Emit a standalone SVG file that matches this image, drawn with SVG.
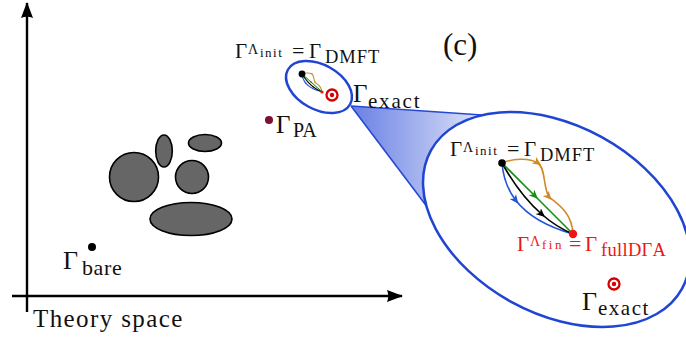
<svg xmlns="http://www.w3.org/2000/svg" xmlns:xlink="http://www.w3.org/1999/xlink" width="686" height="337" viewBox="0 0 686 337">
<style>
text{font-family:"Liberation Serif","Times New Roman",serif;fill:#111}
.m{font-size:21px}
.big{font-size:25px}
.sup{font-size:14px}
.ss{font-size:13px;letter-spacing:1.5px}
.sub{font-size:18.5px;letter-spacing:1px}
.red{fill:#f01414}
.blob{fill:#666;stroke:#000;stroke-width:1.6}
.zoomline{stroke:#2549d4;stroke-width:1.6;fill:none}
.lens{stroke:#1f45d2;stroke-width:2.5}
</style>
<defs>
<linearGradient id="cone" gradientUnits="userSpaceOnUse" x1="352" y1="0" x2="482" y2="0">
<stop offset="0" stop-color="#6a80e3"/>
<stop offset="1" stop-color="#dde3f9"/>
</linearGradient>
<marker id="ax" viewBox="0 0 16 13" refX="15" refY="6.5" markerWidth="16" markerHeight="13" markerUnits="userSpaceOnUse" orient="auto">
<path d="M0,0.5 L16,6.5 L0,12.5 Q2.5,6.5 0,0.5 Z" fill="#000"/>
</marker>
<marker id="aO" viewBox="0 0 9 8" refX="5" refY="4" markerWidth="9" markerHeight="8" markerUnits="userSpaceOnUse" orient="auto">
<path d="M0,0 L9,4 L0,8 L2.5,4 Z" fill="#d08a2a"/>
</marker>
<marker id="aB" viewBox="0 0 9 8" refX="5" refY="4" markerWidth="9" markerHeight="8" markerUnits="userSpaceOnUse" orient="auto">
<path d="M0,0 L9,4 L0,8 L2.5,4 Z" fill="#2255dd"/>
</marker>
<marker id="aK" viewBox="0 0 9 8" refX="5" refY="4" markerWidth="9" markerHeight="8" markerUnits="userSpaceOnUse" orient="auto">
<path d="M0,0 L9,4 L0,8 L2.5,4 Z" fill="#000"/>
</marker>
<marker id="aG" viewBox="0 0 9 8" refX="5" refY="4" markerWidth="9" markerHeight="8" markerUnits="userSpaceOnUse" orient="auto">
<path d="M0,0 L9,4 L0,8 L2.5,4 Z" fill="#1a8c1a"/>
</marker>
<g id="target">
<circle r="5.5" fill="#fff" stroke="#d40000" stroke-width="2.3"/>
<circle r="2.2" fill="#d40000"/>
</g>
<g id="flowpaths" fill="none">
<path stroke="#d08a2a" marker-mid="url(#aO)" d="M502,163 C512,159 528,157 538,163 C546,169 543,188 549,197 C558,204 572,213 573,234"/>
<path stroke="#2255dd" marker-mid="url(#aB)" d="M502,163 C503.2,177.8 507.9,190.2 515.9,200.5 C527.9,216 547.2,226.8 573,234"/>
<path stroke="#000" marker-mid="url(#aK)" d="M502,163 Q520,195.4 542,214.5 Q556.6,227.2 573,234"/>
<path stroke="#1a8c1a" marker-mid="url(#aG)" d="M502,163 L535,196 L573,234"/>
</g>
</defs>

<g id="axes" stroke="#000" stroke-width="2.4" fill="none">
<line x1="27" y1="312" x2="27" y2="3" marker-end="url(#ax)"/>
<line x1="12" y1="296" x2="402" y2="296" marker-end="url(#ax)"/>
</g>
<text id="axis-label" x="33" y="327" class="big" style="letter-spacing:1.4px">Theory space</text>

<g id="blobs">
<circle class="blob" cx="134" cy="177" r="24.5"/>
<ellipse class="blob" cx="164" cy="151" rx="8.3" ry="16"/>
<ellipse class="blob" cx="205" cy="143" rx="16.5" ry="8.5"/>
<circle class="blob" cx="192" cy="177" r="16.5"/>
<ellipse class="blob" cx="191" cy="219" rx="41" ry="16.5"/>
</g>

<g id="bare">
<circle cx="92" cy="247" r="4" fill="#000"/>
<text><tspan x="63" y="269" style="font-size:26px">Γ</tspan><tspan x="82" y="275" style="font-size:22px;letter-spacing:0.6px">bare</tspan></text>
</g>

<g id="pa">
<circle cx="269" cy="120" r="4" fill="#7b1030"/>
<text><tspan x="276" y="132.5" class="big">Γ</tspan><tspan x="293" y="137" style="font-size:20px">PA</tspan></text>
</g>

<g id="zoom-cone">
<polygon points="351,106 482,115 428,208" fill="url(#cone)"/>
<line class="zoomline" x1="351" y1="106" x2="482" y2="115"/>
<line class="zoomline" x1="351" y1="106" x2="428" y2="208"/>
</g>

<g id="small-lens">
<ellipse class="lens" cx="319" cy="87" rx="35.6" ry="22.3" transform="rotate(29 319 87)" fill="#fff"/>
<use xlink:href="#flowpaths" stroke-width="4" transform="translate(302,74) scale(0.28,0.25) translate(-502,-163)"/>
<circle cx="302" cy="74" r="3.4" fill="#000"/>
<circle cx="322" cy="92" r="1.6" fill="#f01414"/>
<use xlink:href="#target" x="332" y="95"/>
</g>

<g id="label-dmft-top">
<text class="m"><tspan x="235" y="58">Γ</tspan><tspan x="248" y="54" class="sup">Λ</tspan><tspan x="260" y="56.5" class="ss">init</tspan><tspan x="292" y="58" style="font-size:22px">=</tspan><tspan x="309" y="58">Γ</tspan><tspan x="325" y="63" class="sub">DMFT</tspan></text>
</g>

<g id="exact-small">
<text><tspan x="353" y="101.5" class="big">Γ</tspan><tspan x="368" y="108" style="font-size:21px;letter-spacing:1.8px">exact</tspan></text>
</g>

<text id="panel" x="443" y="55" style="font-size:31px">(c)</text>

<g id="big-lens">
<ellipse class="lens" cx="556.5" cy="219.5" rx="143.3" ry="94" transform="rotate(28.8 556.5 219.5)" fill="#fff"/>
</g>

<g id="flows">
<use xlink:href="#flowpaths" stroke-width="1.6"/>
</g>

<g id="dmft">
<circle cx="502" cy="163" r="3.8" fill="#000"/>
<text class="m"><tspan x="450" y="156">Γ</tspan><tspan x="463" y="152" class="sup">Λ</tspan><tspan x="475" y="154.5" class="ss">init</tspan><tspan x="507" y="156" style="font-size:22px">=</tspan><tspan x="524" y="156">Γ</tspan><tspan x="540" y="161" class="sub">DMFT</tspan></text>
</g>

<g id="fulldga">
<circle cx="573" cy="234" r="4.2" fill="#f01414"/>
<text class="m red"><tspan x="517" y="251" class="red">Γ</tspan><tspan x="530" y="246" class="sup red">Λ</tspan><tspan x="542" y="248.5" class="ss red" style="letter-spacing:2.5px">fin</tspan><tspan x="569" y="251" class="red" style="font-size:22px">=</tspan><tspan x="585" y="251" class="red">Γ</tspan><tspan x="601" y="256" class="sub red" style="letter-spacing:0.3px">fullDΓA</tspan></text>
</g>

<g id="exact-big">
<use xlink:href="#target" x="614" y="284"/>
<text><tspan x="582" y="310" style="font-size:26px">Γ</tspan><tspan x="598" y="315" style="font-size:21px;letter-spacing:1.5px">exact</tspan></text>
</g>
</svg>
